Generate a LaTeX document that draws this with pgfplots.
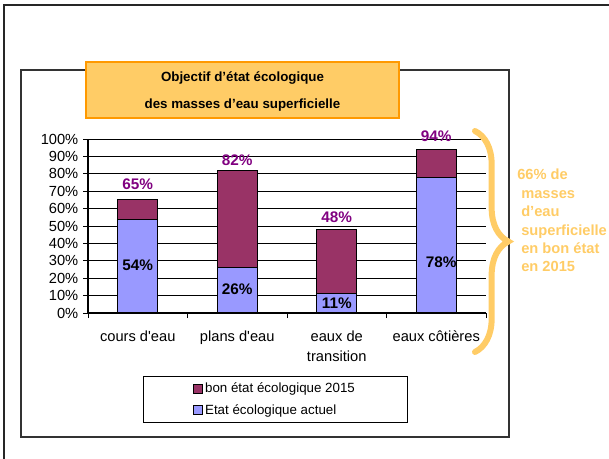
\documentclass[border=0pt]{standalone}
\usepackage{fontspec}
\setmainfont{Liberation Sans}
\usepackage{pgfplots}
\pgfplotsset{compat=1.18}
\usetikzlibrary{decorations.pathreplacing}
\definecolor{barblue}{HTML}{9999FF}
\definecolor{barred}{HTML}{993366}
\definecolor{titlefill}{HTML}{FFCC66}
\definecolor{titledraw}{HTML}{FF9900}
\definecolor{bracecol}{HTML}{FFCC66}
\definecolor{lblpurple}{HTML}{800080}
\begin{document}
\begin{tikzpicture}
\begin{scope}[x=0.75pt,y=-0.75pt]
\useasboundingbox (0,0) rectangle (609,459);
\draw[line width=1.5pt, black!85] (4,459) -- (4,5) -- (609,5);
\draw[line width=1.1pt, black!80] (21,70) rectangle (509,437);
\end{scope}
\begin{axis}[
  at={(66pt,-234.75pt)}, anchor=south west,
  scale only axis, width=298.5pt, height=130.5pt,
  ybar stacked, bar width=30pt,
  xmin=-0.5, xmax=3.5, ymin=0, ymax=100,
  axis x line*=bottom, axis y line*=left,
  x axis line style={-}, y axis line style={-},
  axis line style={black, line width=0.8pt},
  ytick={0,10,...,100},
  yticklabel={\pgfmathprintnumber{\tick}\%},
  /pgf/number format/assume math mode=true,
  ymajorgrids, grid style={black, line width=0.6pt},
  xtick={-0.5,0.5,1.5,2.5,3.5}, xticklabels={},
  extra x ticks={0,1,2,3},
  extra x tick labels={{cours d\textquotesingle eau},{plans d\textquotesingle eau},{eaux de\\transition},{eaux côtières}},
  extra x tick style={major tick length=0pt, grid=none},
  tick align=outside, major tick length=3.75pt,
  tick style={black, line width=0.6pt},
  ticklabel style={font=\fontsize{11}{15}\selectfont},
  xticklabel style={align=center, yshift=-9.75pt},
  clip=false,
  legend cell align=left,
  reverse legend,
  legend style={at={(0.1382,-0.362)}, anchor=north west, draw=black, line width=0.6pt,
    font=\fontsize{10}{12}\selectfont, inner xsep=37pt, inner ysep=3pt, row sep=3pt},
]
\addplot[fill=barblue, draw=black, line width=0.8pt,
  legend image code/.code={\draw[fill=barblue, draw=black, line width=0.5pt] (0pt,-3.4pt) rectangle (6.8pt,3.4pt);}]
  coordinates {(0,54) (1,26) (2,11) (3,78)};
\addlegendentry{Etat écologique actuel}
\addplot[fill=barred, draw=black, line width=0.8pt,
  legend image code/.code={\draw[fill=barred, draw=black, line width=0.5pt] (0pt,-3.4pt) rectangle (6.8pt,3.4pt);}]
  coordinates {(0,11) (1,56) (2,37) (3,16)};
\addlegendentry{bon état écologique 2015}
\node[text=lblpurple, font=\bfseries\fontsize{11.5}{13}\selectfont] at (axis cs:0,74.1) {65\%};
\node[text=lblpurple, font=\bfseries\fontsize{11.5}{13}\selectfont] at (axis cs:1,87.9) {82\%};
\node[text=lblpurple, font=\bfseries\fontsize{11.5}{13}\selectfont] at (axis cs:2,55.2) {48\%};
\node[text=lblpurple, font=\bfseries\fontsize{11.5}{13}\selectfont] at (axis cs:3,101.7) {94\%};
\coordinate (l54) at (axis cs:0,27.6);
\coordinate (l26) at (axis cs:1,13.8);
\coordinate (l11) at (axis cs:2,5.7);
\coordinate (l78) at (axis cs:3.05,29);
\end{axis}
\node[font=\bfseries\fontsize{11.5}{13}\selectfont] at (l54) {54\%};
\node[font=\bfseries\fontsize{11.5}{13}\selectfont] at (l26) {26\%};
\node[font=\bfseries\fontsize{11.5}{13}\selectfont] at (l11) {11\%};
\node[font=\bfseries\fontsize{11.5}{13}\selectfont] at (l78) {78\%};
\begin{scope}[x=0.75pt,y=-0.75pt]
\draw[titledraw, fill=titlefill, line width=1.9pt] (86,62) rectangle (399,118);
\node[font=\bfseries\fontsize{10}{12}\selectfont] at (242.5,78.5) {Objectif d’état écologique};
\node[font=\bfseries\fontsize{10}{12}\selectfont] at (242.5,105.5) {des masses d’eau superficielle};
\draw[bracecol, line width=4.5pt, line cap=round, decorate, decoration={brace, amplitude=25pt}] (475,131) -- (475,352);
\node[anchor=north west, align=left, text=bracecol, inner sep=0pt, font=\bfseries\fontsize{11}{13.8}\selectfont] at (517,169)
  {66\% de\\\hspace*{3pt}masses\\\hspace*{3pt}d’eau\\\hspace*{3pt}superficielle\\\hspace*{3pt}en bon état\\\hspace*{3pt}en 2015};
\end{scope}
\end{tikzpicture}
\end{document}
